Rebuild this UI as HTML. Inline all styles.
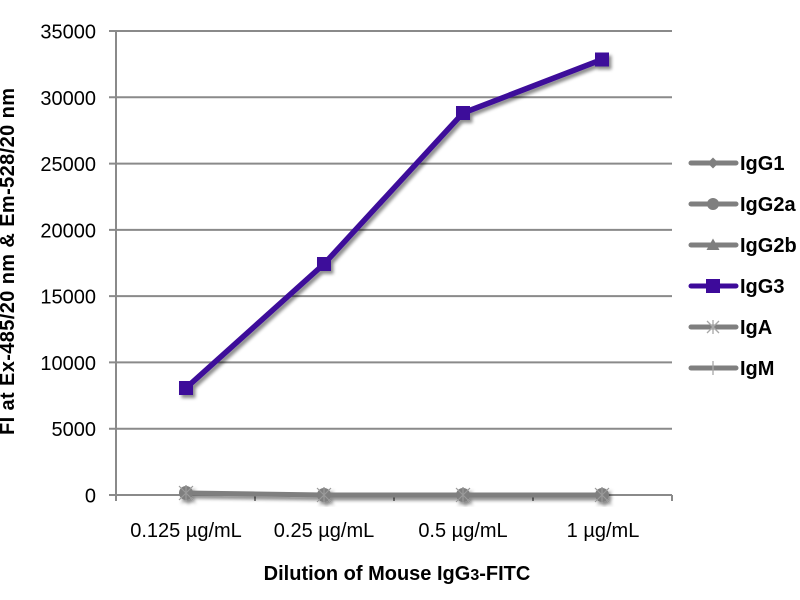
<!DOCTYPE html>
<html>
<head>
<meta charset="utf-8">
<style>
  html,body{margin:0;padding:0;background:#fff;}
  svg{display:block;}
  text{font-family:"Liberation Sans",Arial,sans-serif;fill:#000;}
</style>
</head>
<body>
<svg width="800" height="600" viewBox="0 0 800 600" xmlns="http://www.w3.org/2000/svg">
  <defs>
    <filter id="sh" x="-20%" y="-20%" width="140%" height="140%">
      <feDropShadow dx="2.5" dy="3" stdDeviation="1.6" flood-color="#000" flood-opacity="0.45"/>
    </filter>
  </defs>
  <rect width="800" height="600" fill="#fff"/>

  <!-- gridlines -->
  <g stroke="#8a8a8a" stroke-width="2">
    <line x1="109" y1="31" x2="672" y2="31"/>
    <line x1="109" y1="97.3" x2="672" y2="97.3"/>
    <line x1="109" y1="163.6" x2="672" y2="163.6"/>
    <line x1="109" y1="229.9" x2="672" y2="229.9"/>
    <line x1="109" y1="296.1" x2="672" y2="296.1"/>
    <line x1="109" y1="362.4" x2="672" y2="362.4"/>
    <line x1="109" y1="428.7" x2="672" y2="428.7"/>
    <!-- x axis -->
    <line x1="109" y1="495" x2="672" y2="495"/>
    <!-- y axis -->
    <line x1="116" y1="30" x2="116" y2="501"/>
    <!-- x ticks -->
    <line x1="255" y1="495" x2="255" y2="501"/>
    <line x1="394" y1="495" x2="394" y2="501"/>
    <line x1="533" y1="495" x2="533" y2="501"/>
    <line x1="672" y1="495" x2="672" y2="501"/>
  </g>

  <!-- y tick labels -->
  <g font-size="20" text-anchor="end">
    <text x="96" y="38.5">35000</text>
    <text x="96" y="104.8">30000</text>
    <text x="96" y="171.1">25000</text>
    <text x="96" y="237.4">20000</text>
    <text x="96" y="303.6">15000</text>
    <text x="96" y="369.9">10000</text>
    <text x="96" y="436.2">5000</text>
    <text x="96" y="502.5">0</text>
  </g>

  <!-- x tick labels -->
  <g font-size="20" text-anchor="middle">
    <text x="186" y="537">0.125 µg/mL</text>
    <text x="324" y="537">0.25 µg/mL</text>
    <text x="463" y="537">0.5 µg/mL</text>
    <text x="603" y="537">1 µg/mL</text>
  </g>

  <!-- axis titles -->
  <text x="397" y="580" font-size="20" font-weight="bold" text-anchor="middle">Dilution of Mouse IgG<tspan font-size="16">3</tspan>-FITC</text>
  <text transform="translate(14,261.5) rotate(-90)" font-size="20" font-weight="bold" text-anchor="middle" textLength="347" lengthAdjust="spacing">FI at Ex-485/20 nm &amp; Em-528/20 nm</text>

  <!-- gray series (IgG1, IgG2a, IgG2b, IgA, IgM) -->
  <g filter="url(#sh)">
    <polyline points="186,493 324,495 463,495 602,495" fill="none" stroke="#7f7f7f" stroke-width="5" stroke-linejoin="round"/>
    <g fill="#7f7f7f">
      <circle cx="186" cy="493" r="7"/>
      <circle cx="324" cy="495" r="7"/>
      <circle cx="463" cy="495" r="7"/>
      <circle cx="602" cy="495" r="7"/>
      <polygon points="186,485 193,493 186,501 179,493"/>
      <polygon points="324,487 331,495 324,503 317,495"/>
      <polygon points="463,487 470,495 463,503 456,495"/>
      <polygon points="602,487 609,495 602,503 595,495"/>
    </g>
    <g stroke="#9a9a9a" stroke-width="1.2">
      <path d="M179,486 L193,500 M193,486 L179,500 M186,485 L186,501"/>
      <path d="M317,488 L331,502 M331,488 L317,502 M324,487 L324,503"/>
      <path d="M456,488 L470,502 M470,488 L456,502 M463,487 L463,503"/>
      <path d="M595,488 L609,502 M609,488 L595,502 M602,487 L602,503"/>
    </g>
  </g>

  <!-- IgG3 series -->
  <g filter="url(#sh)">
    <polyline points="186,388 324,264 463,113 602,59.5" fill="none" stroke="#3d0a9a" stroke-width="5.5" stroke-linejoin="round"/>
    <g fill="#3d0a9a">
      <rect x="179" y="381" width="14" height="14"/>
      <rect x="317" y="257" width="14" height="14"/>
      <rect x="456" y="106" width="14" height="14"/>
      <rect x="595" y="52.5" width="14" height="14"/>
    </g>
  </g>

  <!-- legend -->
  <g stroke-width="5" stroke-linecap="round">
    <line x1="691" y1="163" x2="736" y2="163" stroke="#7f7f7f"/>
    <line x1="691" y1="204" x2="736" y2="204" stroke="#7f7f7f"/>
    <line x1="691" y1="245" x2="736" y2="245" stroke="#7f7f7f"/>
    <line x1="691" y1="286" x2="736" y2="286" stroke="#3d0a9a"/>
    <line x1="691" y1="327" x2="736" y2="327" stroke="#7f7f7f"/>
    <line x1="691" y1="368" x2="736" y2="368" stroke="#7f7f7f"/>
  </g>
  <polygon points="713,157.5 718.5,163 713,168.5 707.5,163" fill="#7f7f7f"/>
  <circle cx="713" cy="204" r="6" fill="#7f7f7f"/>
  <polygon points="713,238.5 719.5,250 706.5,250" fill="#7f7f7f"/>
  <rect x="706" y="279" width="14" height="14" fill="#3d0a9a"/>
  <g stroke="#a8a8a8" stroke-width="1.3">
    <path d="M707,321 L719,333 M719,321 L707,333 M713,320 L713,334"/>
  </g>
  <line x1="713" y1="361" x2="713" y2="375" stroke="#a8a8a8" stroke-width="1.3"/>

  <g font-size="20" font-weight="bold">
    <text x="740" y="170">IgG1</text>
    <text x="740" y="211">IgG2a</text>
    <text x="740" y="252">IgG2b</text>
    <text x="740" y="293">IgG3</text>
    <text x="740" y="334">IgA</text>
    <text x="740" y="375">IgM</text>
  </g>
</svg>
</body>
</html>
